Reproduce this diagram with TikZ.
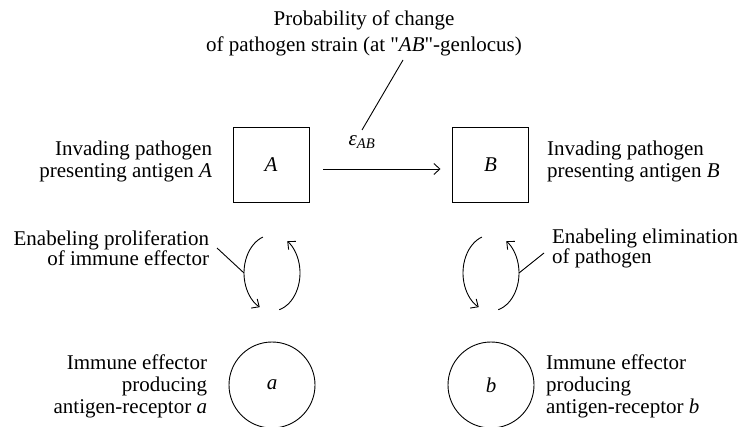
\documentclass[tikz,border=0pt]{standalone}
\usepackage{fontspec}
\setmainfont{Liberation Serif}[Ligatures=TeXOff]
\usetikzlibrary{arrows.meta,calc}
\begin{document}
\begin{tikzpicture}[x=1pt,y=-1pt,
  every node/.style={inner sep=0pt, outer sep=0pt},
  txt/.style={font=\fontsize{21}{22}\selectfont},
  lbl/.style={txt, align=right, anchor=east},
  lbr/.style={txt, align=left, anchor=west},
  box/.style={draw, line width=0.9pt, minimum width=76pt, minimum height=75pt, txt},
  cell/.style={draw, circle, line width=0.9pt, minimum size=86pt, txt},
  conn/.style={line width=0.9pt},
  tip/.style={-{Straight Barb[length=6pt,width=11pt]}}
]
\useasboundingbox (0,0) rectangle (741,427);

% pathogen boxes
\node[box] (A) at (271,164.5) {\textit{A}};
\node[box] (B) at (490.5,164.5) {\textit{B}};
\draw[conn, tip, shorten <=14pt, shorten >=12pt] ([yshift=-4.5pt]A.east) -- ([yshift=-4.5pt]B.west);

% mutation label
\node[txt, font=\fontsize{21}{26}\selectfont, align=center] (prob) at (364,33) {Probability of change\\of pathogen strain (at "\textit{AB}"-genlocus)};
\node[txt] (eps) at (362,142) {\textit{ε}\textsubscript{\textit{AB}}};
\coordinate (pt) at (403,60);
\coordinate (pe) at (362,130);
\draw[conn] (pt) -- (pe);

% side texts
\node[lbl] (tA) at (212,161) {Invading pathogen\\presenting antigen \textit{A}};
\node[lbr] (tB) at (547,161) {Invading pathogen\\presenting antigen \textit{B}};

% immune effectors
\node[cell] (a) at (272,385) {\textit{a}};
\node[cell] (b) at (491,385) {\textit{b}};
\node[lbl] (ta) at (207,386) {Immune effector \\producing\\antigen-receptor \textit{a}};
\node[lbr] (tb) at (546,386) {Immune effector\\producing\\antigen-receptor \textit{b}};

% interaction cycles
\coordinate (cA) at (272,273);
\coordinate (cB) at (491,273);
\draw[conn, tip] ($(cA)+(251:28 and 38)$) arc[start angle=251, end angle=116, x radius=28, y radius=38];
\draw[conn, tip] ($(cA)+(75:28 and 38)$) arc[start angle=75, end angle=-57, x radius=28, y radius=38];
\draw[conn, tip] ($(cB)+(251:28 and 38)$) arc[start angle=251, end angle=116, x radius=28, y radius=38];
\draw[conn, tip] ($(cB)+(75:28 and 38)$) arc[start angle=75, end angle=-57, x radius=28, y radius=38];

\node[lbl, font=\fontsize{21}{20}\selectfont] (tpro) at (209,248) {Enabeling proliferation\\of immune effector};
\node[lbr, font=\fontsize{21}{20}\selectfont] (telim) at (552,248) {Enabeling elimination\\of pathogen};
\coordinate (sA) at (217,248);
\coordinate (sB) at (544,253);
\coordinate (lA) at (244,273);
\coordinate (lB) at (519,273);
\draw[conn] (sA) -- (lA);
\draw[conn] (sB) -- (lB);
\end{tikzpicture}
\end{document}
